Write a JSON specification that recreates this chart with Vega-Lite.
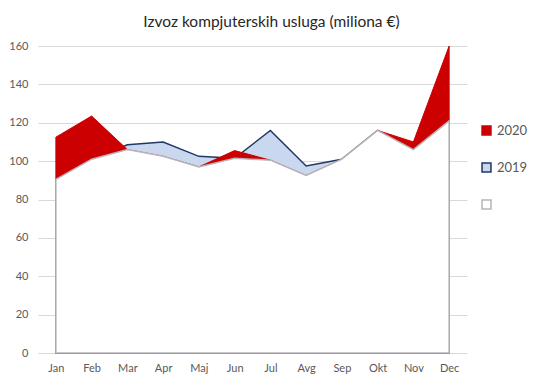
{
  "$schema": "https://vega.github.io/schema/vega-lite/v6.json",
  "width": 429,
  "height": 307,
  "autosize": {"type": "none"},
  "padding": {"left": 38, "top": 46, "right": 76, "bottom": 31},
  "background": "white",
  "title": {"text": "Izvoz kompjuterskih usluga (miliona €)", "fontSize": 15.5, "font": "Lato", "fontWeight": "normal", "color": "#262626", "anchor": "middle", "dx": 19, "dy": 3, "offset": 13},
  "config": {"view": {"stroke": null}, "font": "Lato"},
  "data": {"values": [
    {"month": "Jan", "series": "2019", "value": 90.5},
    {"month": "Feb", "series": "2019", "value": 101},
    {"month": "Mar", "series": "2019", "value": 108.5},
    {"month": "Apr", "series": "2019", "value": 110},
    {"month": "Maj", "series": "2019", "value": 102.5},
    {"month": "Jun", "series": "2019", "value": 101.5},
    {"month": "Jul", "series": "2019", "value": 116},
    {"month": "Avg", "series": "2019", "value": 97.5},
    {"month": "Sep", "series": "2019", "value": 101},
    {"month": "Okt", "series": "2019", "value": 116},
    {"month": "Nov", "series": "2019", "value": 106},
    {"month": "Dec", "series": "2019", "value": 121},
    {"month": "Jan", "series": "2020", "value": 112.5},
    {"month": "Feb", "series": "2020", "value": 123.5},
    {"month": "Mar", "series": "2020", "value": 106},
    {"month": "Apr", "series": "2020", "value": 102.5},
    {"month": "Maj", "series": "2020", "value": 97},
    {"month": "Jun", "series": "2020", "value": 105.5},
    {"month": "Jul", "series": "2020", "value": 100.5},
    {"month": "Avg", "series": "2020", "value": 92.5},
    {"month": "Sep", "series": "2020", "value": 101},
    {"month": "Okt", "series": "2020", "value": 116},
    {"month": "Nov", "series": "2020", "value": 110},
    {"month": "Dec", "series": "2020", "value": 160},
    {"month": "Jan", "series": " ", "value": 90.5},
    {"month": "Feb", "series": " ", "value": 101},
    {"month": "Mar", "series": " ", "value": 106},
    {"month": "Apr", "series": " ", "value": 102.5},
    {"month": "Maj", "series": " ", "value": 97},
    {"month": "Jun", "series": " ", "value": 101.5},
    {"month": "Jul", "series": " ", "value": 100.5},
    {"month": "Avg", "series": " ", "value": 92.5},
    {"month": "Sep", "series": " ", "value": 101},
    {"month": "Okt", "series": " ", "value": 116},
    {"month": "Nov", "series": " ", "value": 106},
    {"month": "Dec", "series": " ", "value": 121}
  ]},
  "encoding": {
    "x": {"field": "month", "type": "ordinal", "sort": ["Jan","Feb","Mar","Apr","Maj","Jun","Jul","Avg","Sep","Okt","Nov","Dec"], "scale": {"type": "point", "padding": 0.5},
      "axis": {"title": null, "domain": false, "ticks": false, "grid": false, "labelAngle": 0, "labelFontSize": 11, "labelColor": "#595959", "labelPadding": 9}},
    "y": {"field": "value", "type": "quantitative", "scale": {"domain": [0, 160], "nice": false, "zero": true},
      "axis": {"title": null, "values": [0,20,40,60,80,100,120,140,160], "domain": false, "ticks": false, "grid": true, "gridColor": "#d9d9d9", "labelFontSize": 11, "labelColor": "#595959", "labelPadding": 10}},
    "fill": {"field": "series", "type": "nominal", "scale": {"domain": ["2020","2019"," "], "range": ["#cc0000","#c9d8ee","#ffffff"]},
      "legend": {"title": null, "orient": "none", "legendX": 442, "legendY": 78, "symbolType": "square", "symbolSize": 80, "symbolStrokeWidth": 1.5, "labelFontSize": 13, "labelColor": "#595959", "rowPadding": 22, "symbolOpacity": 1}},
    "stroke": {"field": "series", "type": "nominal", "scale": {"domain": ["2020","2019"," "], "range": ["#cc0000","#1f3864","#b8b4bc"]},
      "legend": {"title": null, "orient": "none", "legendX": 442, "legendY": 78, "symbolType": "square", "symbolSize": 80, "symbolStrokeWidth": 1.5, "labelFontSize": 13, "labelColor": "#595959", "rowPadding": 22, "symbolOpacity": 1}}
  },
  "layer": [
    {"transform": [{"filter": "datum.series === '2019'"}], "mark": {"type": "area", "strokeWidth": 1.5, "opacity": 1}},
    {"transform": [{"filter": "datum.series === '2020'"}], "mark": {"type": "area", "strokeWidth": 1, "opacity": 1}},
    {"transform": [{"filter": "datum.series === ' '"}], "mark": {"type": "area", "strokeWidth": 1.5, "opacity": 1}}
  ]
}
